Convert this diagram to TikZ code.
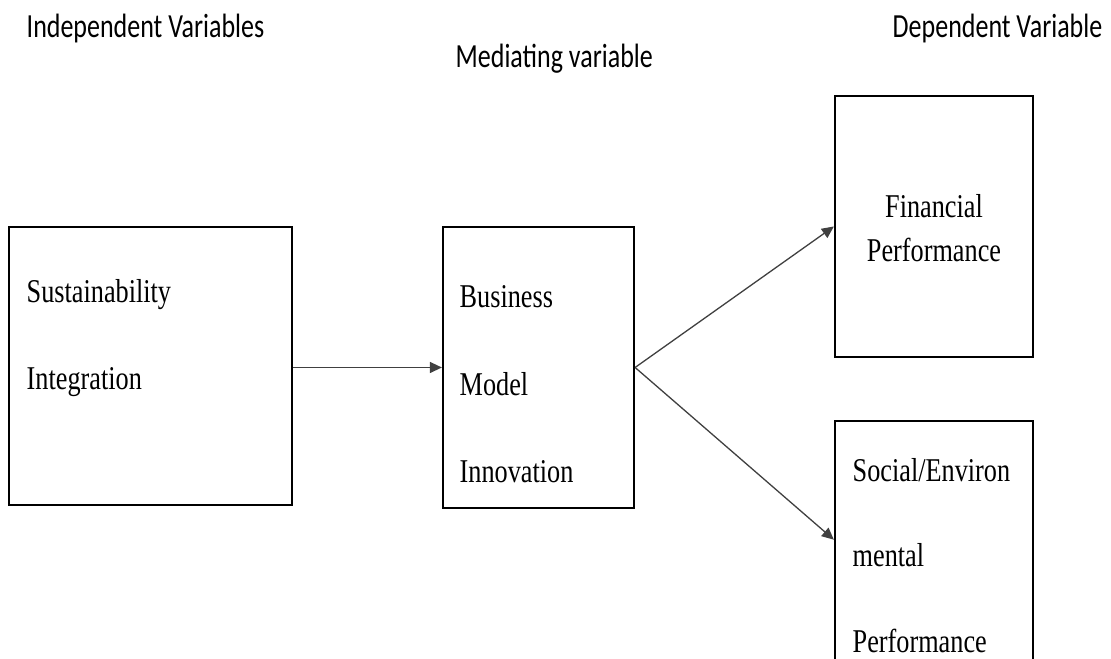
\documentclass[tikz,border=0pt]{standalone}
\usepackage{fontspec}
\usepackage{tikz}
\usetikzlibrary{arrows.meta}
\newfontfamily\headfont[FakeStretch=0.77]{Carlito}
\newfontfamily\boxfont[FakeStretch=0.79]{Liberation Serif}

\begin{document}
\begin{tikzpicture}[
    x=0.01cm,y=-0.01cm,
    varbox/.style={rectangle,draw,line width=0.6pt,inner sep=0pt},
    headlbl/.style={inner sep=0pt,font=\headfont\fontsize{9.6pt}{11pt}\selectfont},
    boxtxt/.style={inner sep=0pt,font=\boxfont\fontsize{9.45pt}{11pt}\selectfont},
    pathedge/.style={line width=0.37pt,black!75,-{Triangle[length=0.12cm,width=0.11cm]}},
]
\useasboundingbox (0,0) rectangle (1111,659);
\clip (0,0) rectangle (1111,659);
% column headings
\node[headlbl,anchor=base west] (hInd) at (26,38)   {Independent Variables};
\node[headlbl,anchor=base west] (hMed) at (455,68)  {Mediating variable};
\node[headlbl,anchor=base east] (hDep) at (1103,38) {Dependent Variable};
% boxes
\node[varbox,minimum width=2.83cm,minimum height=2.78cm] (SI)  at (150.5,366) {};
\node[varbox,minimum width=1.91cm,minimum height=2.81cm] (BMI) at (538.5,367.5) {};
\node[varbox,minimum width=1.98cm,minimum height=2.61cm] (FP)  at (934,226.5) {};
\node[varbox,minimum width=1.98cm,minimum height=2.80cm] (SEP) at (934,561) {};
% box texts
\node[boxtxt,anchor=base west] (tS1) at (26,303)  {Sustainability};
\node[boxtxt,anchor=base west] (tS2) at (26,390)  {Integration};
\node[boxtxt,anchor=base west] (tB1) at (459,308) {Business};
\node[boxtxt,anchor=base west] (tB2) at (459,396) {Model};
\node[boxtxt,anchor=base west] (tB3) at (459,483) {Innovation};
\node[boxtxt,anchor=base] (tF1) at (934,218) {Financial};
\node[boxtxt,anchor=base] (tF2) at (934,262) {Performance};
\node[boxtxt,anchor=base west] (tE1) at (852,482) {Social/Environ};
\node[boxtxt,anchor=base west] (tE2) at (852,567) {mental};
\node[boxtxt,anchor=base west] (tE3) at (852,653) {Performance};
% paths
\draw[pathedge] (SI.east |- BMI.west) -- (BMI.west);
\draw[pathedge] (BMI.east) -- (FP.west);
\draw[pathedge] (BMI.east) -- (SEP.168);
\end{tikzpicture}
\end{document}
